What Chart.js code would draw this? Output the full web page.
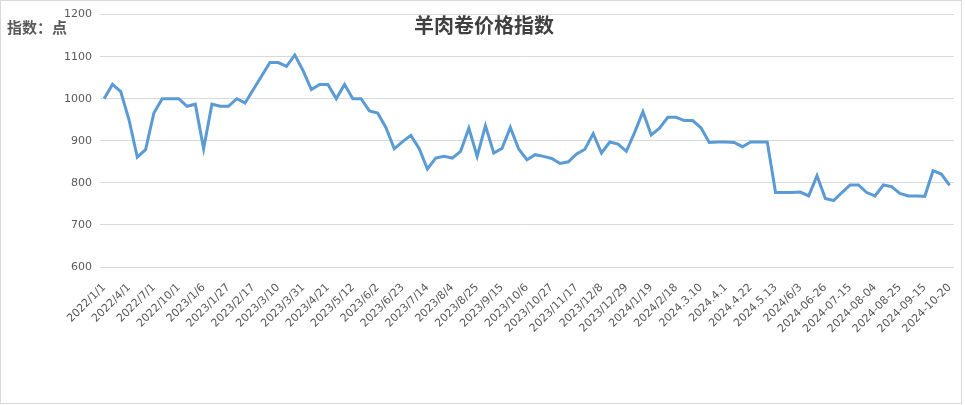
<!DOCTYPE html>
<html>
<head>
<meta charset="utf-8">
<script src="https://cdn.jsdelivr.net/npm/chart.js@4.4.0/dist/chart.umd.min.js"></script>
<style>
  body { margin: 0; background: #fff; }
  #wrap { width: 965px; height: 405px; }
</style>
</head>
<body>
<div id="wrap"><canvas id="myChart" width="965" height="405"></canvas></div>
<script>
const chartTitle = '羊肉卷价格指数';
const unitLabel = '指数：点';

// one label every 3 weeks
const tickLabels = [
    '2022/1/1', '2022/4/1', '2022/7/1', '2022/10/1', '2023/1/6', '2023/1/27', '2023/2/17',
    '2023/3/10', '2023/3/31', '2023/4/21', '2023/5/12', '2023/6/2', '2023/6/23', '2023/7/14',
    '2023/8/4', '2023/8/25', '2023/9/15', '2023/10/6', '2023/10/27', '2023/11/17', '2023/12/8',
    '2023/12/29', '2024/1/19', '2024/2/18', '2024.3.10', '2024.4.1', '2024.4.22', '2024.5.13',
    '2024/6/3', '2024-06-26', '2024-07-15', '2024-08-04', '2024-08-25', '2024-09-15', '2024-10-20'
];

const indexValues = [
    1000, 1034, 1017, 950, 861, 879, 966, 1000, 1000, 1000,
    982, 987, 881, 987, 982, 982, 1000, 990, 1022, 1054,
    1086, 1086, 1077, 1104, 1067, 1022, 1034, 1034, 1000, 1034,
    1000, 1000, 971, 966, 931, 881, 898, 913, 882, 833,
    859, 863, 859, 875, 930, 863, 936, 871, 882, 932,
    881, 855, 867, 863, 858, 846, 850, 869, 880, 917,
    871, 897, 892, 875, 920, 969, 914, 930, 956, 956,
    948, 948, 931, 896, 897, 897, 896, 886, 897, 897,
    897, 777, 777, 777, 778, 769, 817, 763, 758, 777,
    795, 795, 777, 769, 795, 791, 775, 769, 769, 768,
    829, 821, 794
];

const yMin = 600;
const yMax = 1200;
const yStep = 100;

// labels only on every third point
const labels = indexValues.map((v, i) => (i % 3 === 0 ? (tickLabels[i / 3] || '') : ''));

const textColor = '#595959';
const gridColor = '#d9d9d9';

const decorPlugin = {
    id: 'decor',
    beforeDraw(chart) {
        const c = chart.ctx;
        c.save();
        c.fillStyle = '#ffffff';
        c.fillRect(0, 0, chart.width, chart.height);
        c.restore();
    },
    afterDraw(chart) {
        const c = chart.ctx;
        c.save();
        c.strokeStyle = gridColor;
        c.lineWidth = 1;
        c.strokeRect(0.5, 0.5, 961, 403);

        c.fillStyle = textColor;
        c.textBaseline = 'middle';
        c.font = 'bold 15px "Noto Sans CJK SC"';
        c.textAlign = 'left';
        c.fillText(unitLabel, 7, 27);

        c.fillStyle = '#404040';
        c.font = 'bold 20px "Noto Sans CJK SC"';
        c.textAlign = 'center';
        c.fillText(chartTitle, 484, 25);
        c.restore();
    }
};

const ctx = document.getElementById('myChart').getContext('2d');
const myChart = new Chart(ctx, {
    type: 'line',
    data: {
        labels: labels,
        datasets: [{
            label: chartTitle,
            data: indexValues,
            fill: false,
            borderColor: '#5b9bd5',
            borderWidth: 3,
            pointRadius: 0,
            tension: 0
        }]
    },
    options: {
        responsive: false,
        animation: false,
        layout: {
            padding: {top: 12, left: 0, right: 6, bottom: 0}
        },
        plugins: {
            legend: {display: false},
            title: {display: false},
            tooltip: {enabled: false}
        },
        scales: {
            x: {
                type: 'category',
                offset: true,
                grid: {display: false},
                border: {display: false},
                ticks: {
                    autoSkip: false,
                    minRotation: 45,
                    maxRotation: 45,
                    padding: 6,
                    color: textColor,
                    font: {family: '"DejaVu Sans"', size: 11}
                },
                afterFit: function(scale) {
                    scale.height = 138;
                }
            },
            y: {
                min: yMin,
                max: yMax,
                grid: {color: gridColor, lineWidth: 1, drawTicks: false},
                border: {display: false},
                ticks: {
                    stepSize: yStep,
                    padding: 8,
                    color: textColor,
                    font: {family: '"DejaVu Sans"', size: 11},
                    callback: function(value) {
                        return String(value);
                    }
                },
                afterFit: function(scale) {
                    scale.width = 100;
                }
            }
        }
    },
    plugins: [decorPlugin]
});
</script>
</body>
</html>
